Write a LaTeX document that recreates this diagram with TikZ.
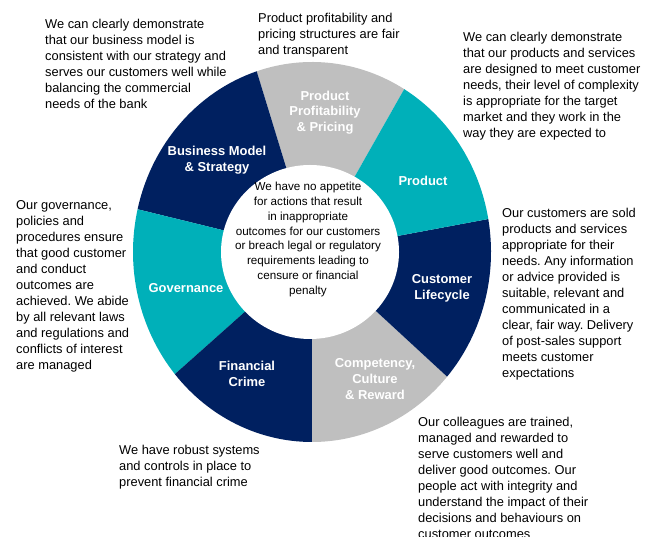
\documentclass[tikz,border=0pt]{standalone}
\usepackage{fontspec}
\setmainfont{Liberation Sans}
\frenchspacing
\definecolor{deepblue}{RGB}{0,32,96}
\definecolor{seateal}{RGB}{0,176,185}
\definecolor{softgrey}{RGB}{191,191,191}

\begin{document}
\begin{tikzpicture}[x=1bp, y=1bp,
    desc/.style={anchor=north west, align=left, inner sep=0pt, font=\fontsize{12.9}{16.1}\selectfont},
    seg/.style={text=white, align=center, inner sep=0pt, font=\bfseries\fontsize{13}{15.8}\selectfont}]
       \useasboundingbox (0,0) rectangle (645,537);
       \coordinate (c) at (312,285);
       \fill [softgrey] (c) -- ++(59:179bp and 190bp) arc [start angle=59, end angle=108, x radius=179bp, y radius=190bp] -- cycle;
       \fill [deepblue] (c) -- ++(108:179bp and 190bp) arc [start angle=108, end angle=167, x radius=179bp, y radius=190bp] -- cycle;
       \fill [seateal] (c) -- ++(167:179bp and 190bp) arc [start angle=167, end angle=220, x radius=179bp, y radius=190bp] -- cycle;
       \fill [deepblue] (c) -- ++(220:179bp and 190bp) arc [start angle=220, end angle=270, x radius=179bp, y radius=190bp] -- cycle;
       \fill [softgrey] (c) -- ++(270:179bp and 190bp) arc [start angle=270, end angle=319, x radius=179bp, y radius=190bp] -- cycle;
       \fill [deepblue] (c) -- ++(319:179bp and 190bp) arc [start angle=319, end angle=370, x radius=179bp, y radius=190bp] -- cycle;
       \fill [seateal] (c) -- ++(10:179bp and 190bp) arc [start angle=10, end angle=59, x radius=179bp, y radius=190bp] -- cycle;
       \fill [white] (310,285) ellipse [x radius=89bp, y radius=87bp];
       \node (profit) at (325,424.5) [seg] {Product\\Profitability\\\& Pricing};
       \node (model) at (217,376.5) [seg] {Business Model\\\& Strategy};
       \node (product) at (423,356) [seg] {Product};
       \node (life) at (442,249) [seg] {Customer\\Lifecycle};
       \node (comp) at (375,158) [seg] {Competency,\\Culture\\\& Reward};
       \node (crime) at (247,163) [seg] {Financial\\Crime};
       \node (gov) at (186,249) [seg] {Governance};
       \node (core) at (308,297.5) [align=center, inner sep=0pt, font=\fontsize{11.7}{15}\selectfont]
            {We have no appetite\\for actions that result\\in inappropriate\\outcomes for our customers\\or breach legal or regulatory\\requirements leading to\\censure or financial\\penalty};
       \node (modeltext) at (45,518) [desc] {We can clearly demonstrate\\that our business model is\\consistent with our strategy and\\serves our customers well while\\balancing the commercial\\needs of the bank};
       \node (profittext) at (258,524) [desc] {Product profitability and\\pricing structures are fair\\and transparent};
       \node (producttext) at (463,505) [desc] {We can clearly demonstrate\\that our products and services\\are designed to meet customer\\needs, their level of complexity\\is appropriate for the target\\market and they work in the\\way they are expected to};
       \node (lifetext) at (502,329) [desc] {Our customers are sold\\products and services\\appropriate for their\\needs. Any information\\or advice provided is\\suitable, relevant and\\communicated in a\\clear, fair way. Delivery\\of post-sales support\\meets customer\\expectations};
       \node (govtext) at (16,337) [desc] {Our governance,\\policies and\\procedures ensure\\that good customer\\and conduct\\outcomes are\\achieved. We abide\\by all relevant laws\\and regulations and\\conflicts of interest\\are managed};
       \node (crimetext) at (119,92) [desc] {We have robust systems\\and controls in place to\\prevent financial crime};
       \node (comptext) at (418,120) [desc] {Our colleagues are trained,\\managed and rewarded to\\serve customers well and\\deliver good outcomes. Our\\people act with integrity and\\understand the impact of their\\decisions and behaviours on\\customer outcomes};
   \end{tikzpicture}
\end{document}
